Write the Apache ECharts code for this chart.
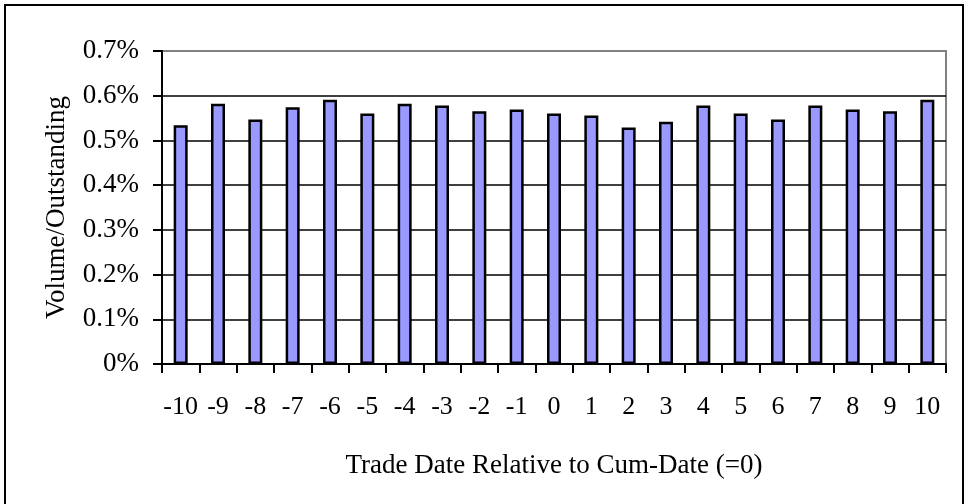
<!DOCTYPE html>
<html>
<head>
<meta charset="utf-8">
<script src="https://cdn.jsdelivr.net/npm/echarts@6/dist/echarts.min.js"></script>
<style>
html,body{margin:0;padding:0;background:#fff;}
#chart{width:966px;height:504px;}
</style>
</head>
<body>
<div id="chart"></div>
<script>
const categories = ['-10','-9','-8','-7','-6','-5','-4','-3','-2','-1','0','1','2','3','4','5','6','7','8','9','10'];
const volumeOutstanding = [0.534,0.582,0.547,0.574,0.591,0.560,0.582,0.578,0.565,0.569,0.560,0.556,0.529,0.542,0.578,0.560,0.547,0.578,0.569,0.565,0.591];
const yTickLabels = ['0%','0.1%','0.2%','0.3%','0.4%','0.5%','0.6%','0.7%'];
const xAxisTitle = 'Trade Date Relative to Cum-Date (=0)';
const yAxisTitle = 'Volume/Outstanding';

const FONT = '"Liberation Serif", "Times New Roman", serif';
const chart = echarts.init(document.getElementById('chart'), null, {renderer: 'canvas'});
chart.setOption({
  animation: false,
  backgroundColor: '#fff',
  textStyle: {fontFamily: FONT},
  graphic: [{
    type: 'rect',
    shape: {x: 5, y: 5, width: 958, height: 520},
    style: {fill: null, stroke: '#000', lineWidth: 2},
    silent: true, z: -1
  }],
  grid: {
    left: 162, right: 20, top: 51, bottom: 140,
    show: true, borderColor: '#808080', borderWidth: 2, backgroundColor: 'transparent'
  },
  xAxis: {
    type: 'category',
    data: categories,
    boundaryGap: true,
    name: xAxisTitle,
    nameLocation: 'middle',
    nameGap: 88,
    nameTextStyle: {fontFamily: FONT, fontSize: 27, color: '#000'},
    axisLine: {lineStyle: {color: '#000', width: 2}},
    axisTick: {show: true, inside: false, length: 9, interval: 0, alignWithLabel: false, lineStyle: {color: '#000', width: 2}},
    axisLabel: {interval: 0, margin: 30, fontFamily: FONT, fontSize: 26, color: '#000'},
    splitLine: {show: false}
  },
  yAxis: {
    type: 'value',
    min: 0, max: 0.7, interval: 0.1,
    name: yAxisTitle,
    nameLocation: 'middle',
    nameGap: 92,
    nameRotate: 90,
    nameTextStyle: {fontFamily: FONT, fontSize: 27, color: '#000'},
    axisLine: {show: true, lineStyle: {color: '#000', width: 2}},
    axisTick: {show: true, inside: false, length: 9, lineStyle: {color: '#000', width: 2}},
    axisLabel: {
      margin: 23, fontFamily: FONT, fontSize: 27, color: '#000',
      formatter: function (v) { return yTickLabels[Math.round(v * 10)]; }
    },
    splitLine: {show: true, showMinLine: false, showMaxLine: false, lineStyle: {color: '#000', width: 1.5}}
  },
  series: [{
    type: 'bar',
    data: volumeOutstanding,
    barWidth: 14,
    itemStyle: {color: '#9999FF', borderColor: '#000', borderWidth: 2.5}
  }]
});
</script>
</body>
</html>
